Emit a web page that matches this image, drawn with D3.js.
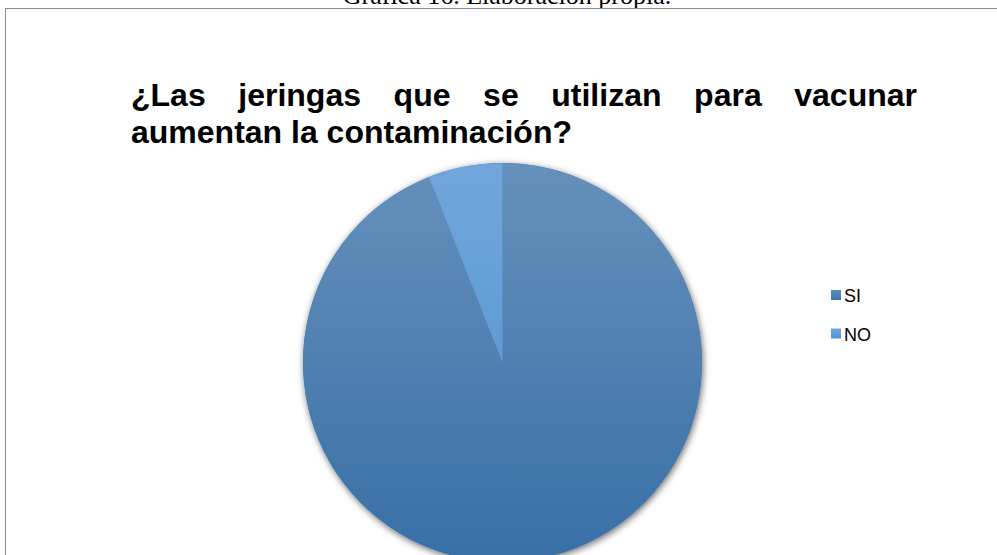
<!DOCTYPE html>
<html>
<head>
<meta charset="utf-8">
<script src="https://cdn.jsdelivr.net/npm/d3@7"></script>
<style>
html,body{margin:0;padding:0;background:#fff;overflow:hidden;}
svg{display:block;}
</style>
</head>
<body>
<svg id="chart" width="997" height="555"></svg>
<script>
const categories = ["SI", "NO"];
const values = [94, 6];
const captionText = "Gráfica 16. Elaboración propia.";
const titleLine1 = ["¿Las", "jeringas", "que", "se", "utilizan", "para", "vacunar"];
const titleLine2 = "aumentan la contaminación?";

const W = 997, H = 555;
const svg = d3.select("#chart");
const defs = svg.append("defs");

const cx = 502.5, cy = 362.5, r = 199.5;
const gradSpecs = [
  {id: "gSI", top: "#6590bb", bottom: "#3870a6"},
  {id: "gNO", top: "#72a6da", bottom: "#4a90d2"}
];
gradSpecs.forEach(g => {
  const lg = defs.append("linearGradient").attr("id", g.id)
    .attr("gradientUnits", "userSpaceOnUse")
    .attr("x1", 0).attr("y1", -r).attr("x2", 0).attr("y2", r);
  lg.append("stop").attr("offset", "0%").attr("stop-color", g.top);
  lg.append("stop").attr("offset", "100%").attr("stop-color", g.bottom);
});
const legGrad = [
  {id: "lSI", top: "#5d8bbd", bottom: "#3f76ab"},
  {id: "lNO", top: "#6ea6dc", bottom: "#4f93d3"}
];
legGrad.forEach(g => {
  const lg = defs.append("linearGradient").attr("id", g.id)
    .attr("x1", 0).attr("y1", 0).attr("x2", 0).attr("y2", 1);
  lg.append("stop").attr("offset", "0%").attr("stop-color", g.top);
  lg.append("stop").attr("offset", "100%").attr("stop-color", g.bottom);
});

const f = defs.append("filter").attr("id", "shadow")
  .attr("x", "-10%").attr("y", "-10%").attr("width", "120%").attr("height", "120%");
f.append("feDropShadow").attr("dx", 1).attr("dy", 2).attr("stdDeviation", 3.5)
  .attr("flood-color", "#000").attr("flood-opacity", 0.6);

// caption (cut at top, as in the reference)
svg.append("text").attr("x", 507).attr("y", 4)
  .attr("text-anchor", "middle")
  .attr("font-family", "'Liberation Serif','Times New Roman',serif")
  .attr("font-size", 26).attr("fill", "#000").text(captionText);

// border
svg.append("rect").attr("x", 5.5).attr("y", 8.5).attr("width", W + 20).attr("height", H + 20)
  .attr("fill", "none").attr("stroke", "#8c8c8c").attr("stroke-width", 1);

// title
const tf = "'Liberation Sans',Arial,sans-serif";
const tSize = 32;
const left = 131, right = 917;
const words = svg.append("g").selectAll("text").data(titleLine1).join("text")
  .attr("y", 106).attr("font-family", tf).attr("font-size", tSize)
  .attr("font-weight", "bold").attr("fill", "#000").text(d => d);
const widths = [];
words.each(function(){ widths.push(this.getComputedTextLength()); });
const totalW = d3.sum(widths);
const gap = (right - left - totalW) / (titleLine1.length - 1);
let xx = left;
words.attr("x", (d, i) => { const v = xx; xx += widths[i] + gap; return v; });
svg.append("text").attr("x", left).attr("y", 143).attr("font-family", tf)
  .attr("font-size", tSize).attr("font-weight", "bold").attr("fill", "#000").text(titleLine2);

// pie
const pie = d3.pie().sort(null).value(d => d)(values);
const arc = d3.arc().innerRadius(0).outerRadius(r);
const pg = svg.append("g").attr("transform", `translate(${cx},${cy})`);
pg.append("circle").attr("r", r).attr("fill", "#4a7fb5").attr("filter", "url(#shadow)");
pg.selectAll("path").data(pie).join("path")
  .attr("d", arc)
  .attr("fill", (d, i) => `url(#${gradSpecs[i].id})`);

// legend
const lg = svg.append("g");
const rowY = d3.scalePoint().domain(categories).range([295.5, 334]);
categories.forEach((c, i) => {
  lg.append("rect").attr("x", 831).attr("y", rowY(c) - 5.5).attr("width", 10).attr("height", 10)
    .attr("fill", `url(#${legGrad[i].id})`);
  lg.append("text").attr("x", 844).attr("y", rowY(c) + 6.5)
    .attr("font-family", tf).attr("font-size", 18).attr("fill", "#000").text(c);
});
</script>
</body>
</html>
